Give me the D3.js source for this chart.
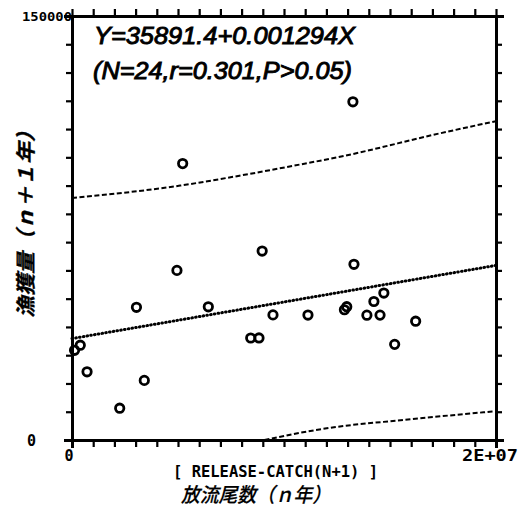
<!DOCTYPE html>
<html>
<head>
<meta charset="utf-8">
<script src="https://cdn.jsdelivr.net/npm/d3@7"></script>
<style>
  html, body { margin: 0; padding: 0; background: #fff; }
  svg { display: block; }
  text { fill: #000; }
</style>
</head>
<body>
<script>
// ---- data ----
const releaseX = [0.12e6, 0.39e6, 0.71e6, 2.25e6, 3.04e6, 3.41e6, 4.95e6, 5.22e6, 6.43e6, 8.43e6, 8.82e6, 8.97e6,
                  9.48e6, 11.13e6, 12.85e6, 12.96e6, 13.25e6, 13.30e6, 13.91e6, 14.24e6, 14.53e6, 14.71e6, 15.22e6, 16.21e6];
const catchY   = [31740, 33530, 24130, 11250, 46940, 21090, 60000, 97790, 47130, 36080, 36100, 66850,
                  44260, 44210, 46080, 47150, 119640, 62160, 44160, 48990, 44190, 51990, 33830, 42020];
const regX = [0, 2e7];
const regY = [35891, 61771];
const upperX = [0, 5.1e6, 7.9e6, 10.75e6, 12.64e6, 17.36e6, 2e7];
const upperY = [85600, 90000, 93500, 97450, 100200, 108500, 112800];
const lowerX = [9.08e6, 10.8e6, 12.36e6, 15.5e6, 2e7];
const lowerY = [0, 2600, 4500, 7000, 10200];
const xTickValues = d3.range(0, 2e7 + 1, 1e6);
const yTickValues = d3.range(0, 150001, 10000);
const xTickLabels = [{v: 0, t: "0"}, {v: 2e7, t: "2E+07"}];
const yTickLabels = [{v: 0, t: "0"}, {v: 150000, t: "150000"}];
const eqLine1 = "Y=35891.4+0.001294X";
const eqLine2 = "(N=24,r=0.301,P>0.05)";
const xTitle1 = "[ RELEASE-CATCH(N+1) ]";
const xTitle2 = "放流尾数（ｎ年）";
const yTitle = "漁獲量（ｎ＋１年）";

// ---- layout ----
const W = 524, H = 525;
const L = 72, R = 496, T = 16, B = 440;

const svg = d3.select("body").append("svg").attr("width", W).attr("height", H);
const x = d3.scaleLinear().domain([0, 2e7]).range([L, R]);
const y = d3.scaleLinear().domain([0, 150000]).range([B, T]);

const mono = "'DejaVu Sans Mono', 'Liberation Mono', monospace";

// axes (ticks only)
function styleAxis(g) {
  g.selectAll(".domain").attr("stroke", "#000").attr("stroke-width", 3);
  g.selectAll(".tick line").attr("stroke", "#000").attr("stroke-width", 2.2);
  g.selectAll(".tick text").remove();
}
svg.append("g").attr("transform", `translate(0,${B})`)
  .call(d3.axisBottom(x).tickValues(xTickValues).tickSize(7).tickSizeOuter(8).tickFormat(""))
  .call(styleAxis);
svg.append("g").attr("transform", `translate(0,${T})`)
  .call(d3.axisTop(x).tickValues(xTickValues).tickSize(7).tickSizeOuter(0).tickFormat(""))
  .call(styleAxis);
svg.append("g").attr("transform", `translate(${L},0)`)
  .call(d3.axisLeft(y).tickValues(yTickValues).tickSize(6).tickSizeOuter(8).tickFormat(""))
  .call(styleAxis);
svg.append("g").attr("transform", `translate(${R},0)`)
  .call(d3.axisRight(y).tickValues(yTickValues).tickSize(6).tickSizeOuter(8).tickFormat(""))
  .call(styleAxis);

// tick labels
svg.append("text").attr("x", 36).attr("y", y(0) + 6)
  .attr("text-anchor", "end").attr("font-family", mono).attr("font-weight", "bold")
  .attr("font-size", 15).text(yTickLabels[0].t);
svg.append("text").attr("x", 22).attr("y", y(150000) + 5)
  .attr("font-family", mono).attr("font-weight", "bold")
  .attr("font-size", 13).attr("textLength", 50).attr("lengthAdjust", "spacingAndGlyphs")
  .text(yTickLabels[1].t);
svg.append("text").attr("x", x(0) - 3).attr("y", 461)
  .attr("text-anchor", "middle").attr("font-family", mono).attr("font-weight", "bold")
  .attr("font-size", 15).text(xTickLabels[0].t);
svg.append("text").attr("x", 462).attr("y", 461)
  .attr("font-family", mono).attr("font-weight", "bold")
  .attr("font-size", 15).attr("textLength", 56).attr("lengthAdjust", "spacingAndGlyphs")
  .text(xTickLabels[1].t);

// axis titles
svg.append("text").attr("x", 173).attr("y", 477)
  .attr("font-family", mono).attr("font-size", 15).attr("font-weight", "bold")
  .attr("textLength", 205).attr("lengthAdjust", "spacingAndGlyphs")
  .text(xTitle1);
svg.append("text").attr("x", 181).attr("y", 502)
  .attr("font-family", "'Noto Sans CJK JP', sans-serif").attr("font-size", 20)
  .attr("font-style", "italic").attr("font-weight", 500)
  .attr("stroke", "#000").attr("stroke-width", 0.2)
  .attr("textLength", 150).attr("lengthAdjust", "spacingAndGlyphs")
  .text(xTitle2);
svg.append("g").attr("opacity", 0.999)
  .append("text")
  .attr("transform", "translate(33,318) rotate(-90)")
  .attr("font-family", "'Noto Sans CJK JP', sans-serif").attr("font-size", 20)
  .attr("font-weight", "bold").attr("font-style", "italic")
  .style("fill", "#000").attr("stroke", "#000").attr("stroke-width", 0.3)
  .attr("textLength", 198).attr("lengthAdjust", "spacingAndGlyphs")
  .text(yTitle);

// equation text
const eqFont = "'Liberation Sans', Arial, sans-serif";
svg.append("text").attr("x", 94).attr("y", 44)
  .attr("font-family", eqFont).attr("font-style", "italic").attr("font-size", 23)
  .attr("stroke", "#000").attr("stroke-width", 0.9)
  .attr("textLength", 261).attr("lengthAdjust", "spacingAndGlyphs")
  .text(eqLine1);
svg.append("text").attr("x", 93).attr("y", 79)
  .attr("font-family", eqFont).attr("font-style", "italic").attr("font-size", 23)
  .attr("stroke", "#000").attr("stroke-width", 0.9)
  .attr("textLength", 259).attr("lengthAdjust", "spacingAndGlyphs")
  .text(eqLine2);

// lines
const lineGen = d3.line().x(d => x(d[0])).y(d => y(d[1])).curve(d3.curveMonotoneX);
svg.append("path").datum(d3.zip(upperX, upperY)).attr("d", lineGen)
  .attr("fill", "none").attr("stroke", "#000").attr("stroke-width", 2)
  .attr("stroke-dasharray", "5,2.5");
svg.append("path").datum(d3.zip(lowerX, lowerY)).attr("d", lineGen)
  .attr("fill", "none").attr("stroke", "#000").attr("stroke-width", 2)
  .attr("stroke-dasharray", "5,2.5");
svg.append("path").datum(d3.zip(regX, regY)).attr("d", lineGen)
  .attr("fill", "none").attr("stroke", "#000").attr("stroke-width", 3)
  .attr("stroke-linecap", "round").attr("stroke-dasharray", "0.6,3.2");

// points
svg.append("g").selectAll("circle").data(d3.zip(releaseX, catchY)).join("circle")
  .attr("cx", d => x(d[0])).attr("cy", d => y(d[1])).attr("r", 4.2)
  .attr("fill", "none").attr("stroke", "#000").attr("stroke-width", 2.8);
</script>
</body>
</html>
